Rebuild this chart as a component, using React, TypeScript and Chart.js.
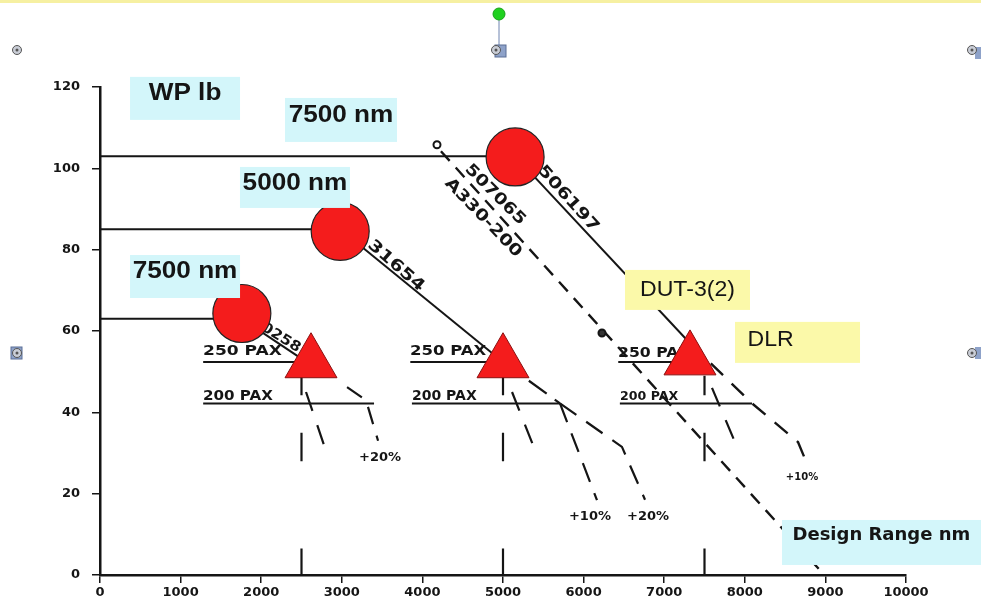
import React, { useEffect, useRef } from 'react';
import { Chart, registerables } from 'chart.js';

Chart.register(...registerables);

// ---------- axes ----------
const xMin = 0;
const xMax = 10000;
const xStep = 1000;
const yMin = 0;
const yMax = 120;
const yStep = 20;

// ---------- payload flats (WP lb) ----------
const flatUpper7500 = [{ x: 0, y: 103 }, { x: 5150, y: 103 }];
const flat5000 = [{ x: 0, y: 85 }, { x: 2980, y: 85 }];
const flatLower7500 = [{ x: 0, y: 63 }, { x: 1760, y: 63 }];

// ---------- range diagonals ----------
const diag506197 = [{ x: 5150, y: 103 }, { x: 7320, y: 57 }];
const diag506197Ext = [{ x: 7320, y: 57 }, { x: 8090, y: 42.2 }, { x: 8660, y: 32.7 }, { x: 8790, y: 26.5 }];
const diag31654 = [{ x: 2980, y: 85 }, { x: 5000, y: 52.4 }];
const diag31654Ext = [{ x: 5000, y: 52.4 }, { x: 5707, y: 42.2 }];
const diag0258 = [{ x: 1760, y: 63 }, { x: 2560, y: 52.4 }];
const a330Line = [{ x: 4230, y: 104.2 }, { x: 8950, y: 0.8 }];
const a330Marks = [{ x: 4181, y: 105.8 }, { x: 6228, y: 59.5 }];

// ---------- PAX lines ----------
const pax250Y = 52.4;
const pax250Spans = [[1280, 2540], [3850, 4840], [6430, 7200]];
const pax200Y = 42.2;
const pax200Spans = [[1280, 3400], [3870, 5707], [6450, 8090]];

// ---------- growth curves ----------
const g1Plus20 = [{ x: 3065, y: 46.2 }, { x: 3300, y: 43 }, { x: 3450, y: 33 }];
const g2Plus10 = [{ x: 5707, y: 42.2 }, { x: 6166, y: 18.4 }];
const g2Plus20 = [{ x: 5707, y: 42.2 }, { x: 6476, y: 31.5 }, { x: 6762, y: 18.5 }];
const g1Base = [{ x: 2556, y: 45 }, { x: 2792, y: 31.2 }];
const g2Base = [{ x: 5112, y: 45 }, { x: 5397, y: 30.7 }];
const g3Base = [{ x: 7593, y: 46 }, { x: 7878, y: 32.7 }];

// ---------- design range markers ----------
const designRanges = [2500, 5000, 7500];
const designRangeSegments = [[49, 44.2], [35, 28], [6.5, 0]];

// ---------- markers ----------
const circleX = [1760, 2980, 5150];
const circleY = [64.3, 84.5, 102.8];
const triangleX = [2618, 5000, 7320];
const triangleY = [52.2, 52.2, 52.9];

// ---------- hand-written labels ----------
const handLabels = [
  { text: '250 PAX', x: 1278, y: 54.9, size: 14, sx: 1.22, align: 'left', angle: 0 },
  { text: '250 PAX', x: 3846, y: 54.9, size: 14, sx: 1.18, align: 'left', angle: 0 },
  { text: '250 PAX', x: 6427, y: 54.6, size: 14, sx: 1.12, align: 'left', angle: 0 },
  { text: '200 PAX', x: 1278, y: 44.0, size: 14, sx: 1.08, align: 'left', angle: 0 },
  { text: '200 PAX', x: 3871, y: 44.0, size: 14, sx: 1.0, align: 'left', angle: 0 },
  { text: '200 PAX', x: 6452, y: 43.8, size: 12, sx: 1.05, align: 'left', angle: 0 },
  { text: '+20%', x: 3474, y: 28.8, size: 13, sx: 1.0, align: 'center', angle: 0 },
  { text: '+10%', x: 6079, y: 14.3, size: 13, sx: 1.0, align: 'center', angle: 0 },
  { text: '+20%', x: 6799, y: 14.3, size: 13, sx: 1.0, align: 'center', angle: 0 },
  { text: '+10%', x: 8710, y: 23.9, size: 10, sx: 1.0, align: 'center', angle: 0 },
  { text: '507065', x: 4901, y: 93.5, size: 16, sx: 1.18, align: 'center', angle: 45 },
  { text: 'A330-200', x: 4752, y: 87.8, size: 16, sx: 1.2, align: 'center', angle: 46 },
  { text: '506197', x: 5806, y: 92.5, size: 16, sx: 1.25, align: 'center', angle: 48 },
  { text: '31654', x: 3672, y: 76, size: 16, sx: 1.25, align: 'center', angle: 41 },
  { text: '0258', x: 2246, y: 58.3, size: 14, sx: 1.12, align: 'center', angle: 32 },
];

// ---------- callout boxes ----------
const CYAN = '#d3f6fa';
const YELLOW = '#fbf9a9';
const calloutBoxes = [
  { text: 'WP lb', x: 1055, y: 117.2, w: 110, h: 43, fill: CYAN, font: 'bold 24px "Liberation Sans"', sx: 1.09, dx: 0, dy: -5, align: 'center' },
  { text: '7500 nm', x: 2990, y: 111.9, w: 112, h: 44, fill: CYAN, font: 'bold 24px "Liberation Sans"', sx: 1.09, dx: 0, dy: -5, align: 'center' },
  { text: '5000 nm', x: 2419, y: 95.3, w: 110, h: 41, fill: CYAN, font: 'bold 24px "Liberation Sans"', sx: 1.09, dx: 0, dy: -4, align: 'center' },
  { text: '7500 nm', x: 1055, y: 73.4, w: 110, h: 43, fill: CYAN, font: 'bold 24px "Liberation Sans"', sx: 1.09, dx: 0, dy: -5, align: 'center' },
  { text: 'DUT-3(2)', x: 7289, y: 70.1, w: 125, h: 40, fill: YELLOW, font: '22px "Liberation Sans"', sx: 1.05, dx: 0, dy: 0, align: 'center' },
  { text: 'DLR', x: 8654, y: 57.2, w: 125, h: 41, fill: YELLOW, font: '22px "Liberation Sans"', sx: 1.05, dx: -50, dy: -2, align: 'left' },
  { text: 'Design Range nm', x: 9696, y: 8.0, w: 199, h: 45, fill: CYAN, font: 'bold 18px "DejaVu Sans"', sx: 1.0, dx: -89, dy: -7, align: 'left' },
];

const INK = '#151515';
const RED = '#f41c1c';
const HAND_FONT = '"DejaVu Sans"';

const pts = (xs: number[], ys: number[]) => xs.map((x, i) => ({ x, y: ys[i] }));
const spans = (list: number[][], y: number) =>
  list.flatMap(([a, b]) => [{ x: a, y }, { x: b, y }, { x: b, y: null as any }]);
const verticals = (xs: number[], segs: number[][]) =>
  xs.flatMap((x) => segs.flatMap(([a, b]) => [{ x, y: a }, { x, y: b }, { x, y: null as any }]));

const lineDs = (data: any[], dash: number[] = [], width = 2) => ({
  type: 'line' as const,
  data,
  borderColor: INK,
  borderWidth: width,
  borderDash: dash,
  pointRadius: 0,
  pointHoverRadius: 0,
  fill: false,
  tension: 0,
  spanGaps: false,
  order: 3,
  clip: false as any,
});

function drawText(ctx: CanvasRenderingContext2D, text: string, px: number, py: number, font: string, align: CanvasTextAlign, angle: number, sx: number) {
  ctx.save();
  ctx.translate(px, py);
  ctx.rotate((angle * Math.PI) / 180);
  ctx.scale(sx, 1);
  ctx.font = font;
  ctx.fillStyle = INK;
  ctx.textAlign = align;
  ctx.textBaseline = 'middle';
  ctx.fillText(text, 0, 0);
  ctx.restore();
}

const handLabelPlugin = {
  id: 'handLabels',
  beforeDatasetsDraw(chart: any) {
    const { ctx, scales } = chart;
    handLabels.forEach((l) => {
      drawText(ctx, l.text, scales.x.getPixelForValue(l.x), scales.y.getPixelForValue(l.y),
        `bold ${l.size}px ${HAND_FONT}`, l.align as CanvasTextAlign, l.angle, l.sx);
    });
  },
};

const calloutPlugin = {
  id: 'callouts',
  afterDatasetsDraw(chart: any) {
    const { ctx, scales } = chart;
    calloutBoxes.forEach((b) => {
      const cx = scales.x.getPixelForValue(b.x);
      const cy = scales.y.getPixelForValue(b.y);
      ctx.save();
      ctx.fillStyle = b.fill;
      ctx.fillRect(cx - b.w / 2, cy - b.h / 2, b.w, b.h);
      ctx.restore();
      drawText(ctx, b.text, cx + b.dx, cy + b.dy, b.font, b.align as CanvasTextAlign, 0, b.sx);
    });
  },
};

const frameDecorPlugin = {
  id: 'frameDecor',
  afterDraw(chart: any) {
    const ctx: CanvasRenderingContext2D = chart.ctx;
    ctx.save();
    ctx.fillStyle = '#f6f0a2';
    ctx.fillRect(0, 0, chart.width, 3);
    // rotation handle
    ctx.strokeStyle = '#6f84b0';
    ctx.lineWidth = 1;
    ctx.beginPath();
    ctx.moveTo(499, 20);
    ctx.lineTo(499, 45);
    ctx.stroke();
    ctx.fillStyle = '#1fd11f';
    ctx.strokeStyle = '#18a018';
    ctx.beginPath();
    ctx.arc(499, 14, 6, 0, Math.PI * 2);
    ctx.fill();
    ctx.stroke();
    // square handles
    ctx.fillStyle = '#8ea2c9';
    ctx.strokeStyle = '#5a6e96';
    ctx.fillRect(495, 45, 11, 12);
    ctx.strokeRect(495, 45, 11, 12);
    ctx.fillRect(11, 347, 11, 12);
    ctx.strokeRect(11, 347, 11, 12);
    ctx.fillRect(975, 47, 8, 12);
    ctx.fillRect(975, 347, 8, 12);
    // round handles
    const handles = [[17, 50], [496, 50], [972, 50], [17, 353], [972, 353]];
    handles.forEach(([hx, hy]) => {
      ctx.fillStyle = '#c9cdd6';
      ctx.strokeStyle = '#555';
      ctx.lineWidth = 1;
      ctx.beginPath();
      ctx.arc(hx, hy, 4.5, 0, Math.PI * 2);
      ctx.fill();
      ctx.stroke();
      ctx.fillStyle = '#555';
      ctx.beginPath();
      ctx.arc(hx, hy, 1.5, 0, Math.PI * 2);
      ctx.fill();
    });
    ctx.restore();
  },
};

export default function App() {
  const ref = useRef<HTMLCanvasElement>(null);

  useEffect(() => {
    const canvas = ref.current;
    if (!canvas) return;

    const datasets: any[] = [
      {
        type: 'line',
        data: pts(circleX, circleY),
        showLine: false,
        pointStyle: 'circle',
        pointRadius: 29,
        pointHoverRadius: 29,
        pointBackgroundColor: RED,
        pointBorderColor: '#222',
        pointBorderWidth: 1.2,
        order: 0,
        clip: false,
      },
      {
        type: 'line',
        data: pts(triangleX, triangleY),
        showLine: false,
        pointStyle: 'triangle',
        pointRadius: 30,
        pointHoverRadius: 30,
        pointBackgroundColor: RED,
        pointBorderColor: '#8a1010',
        pointBorderWidth: 1,
        order: 0,
        clip: false,
      },
      {
        type: 'line',
        data: a330Marks,
        showLine: false,
        pointStyle: 'circle',
        pointRadius: 3.5,
        pointHoverRadius: 3.5,
        pointBackgroundColor: ['#ffffff', '#333333'],
        pointBorderColor: INK,
        pointBorderWidth: 2,
        order: 1,
        clip: false,
      },
      lineDs(flatUpper7500, [], 2),
      lineDs(flat5000, [], 2),
      lineDs(flatLower7500, [], 2),
      lineDs(diag506197, [], 2),
      lineDs(diag506197Ext, [17, 12], 2.4),
      lineDs(diag31654, [], 2),
      lineDs(diag31654Ext, [22, 10], 2.2),
      lineDs(diag0258, [], 2),
      lineDs(a330Line, [13, 9], 2.4),
      lineDs(spans(pax250Spans, pax250Y), [], 2),
      lineDs(spans(pax200Spans, pax200Y), [], 2),
      lineDs(g1Plus20, [18, 12], 2.2),
      lineDs(g2Plus10, [20, 12], 2.2),
      lineDs(g2Plus20, [20, 12], 2.2),
      lineDs(g1Base, [20, 15], 2.2),
      lineDs(g2Base, [20, 15], 2.2),
      lineDs(g3Base, [20, 15], 2.2),
      lineDs(verticals(designRanges, designRangeSegments), [], 2.2),
    ];

    const chart = new Chart(canvas, {
      type: 'line',
      data: { datasets },
      options: {
        responsive: false,
        animation: false,
        events: [],
        layout: { padding: { left: 0, right: 75, top: 87, bottom: 0 } },
        plugins: {
          legend: { display: false },
          tooltip: { enabled: false },
        },
        scales: {
          x: {
            type: 'linear',
            min: xMin,
            max: xMax,
            afterFit: (s: any) => { s.height = 38; },
            ticks: {
              stepSize: xStep,
              color: INK,
              padding: 2,
              maxRotation: 0,
              autoSkip: false,
              font: { family: HAND_FONT, size: 13, weight: 'bold' },
              callback: (v: any) => String(v),
            },
            grid: { display: true, drawOnChartArea: false, drawTicks: true, tickLength: 8, color: INK, lineWidth: 1.5 },
            border: { display: true, color: INK, width: 2.5 },
          },
          y: {
            type: 'linear',
            min: yMin,
            max: yMax,
            afterFit: (s: any) => { s.width = 100; },
            ticks: {
              stepSize: yStep,
              color: INK,
              padding: 12,
              font: { family: HAND_FONT, size: 13, weight: 'bold' },
              callback: (v: any) => String(v),
            },
            grid: { display: true, drawOnChartArea: false, drawTicks: true, tickLength: 8, color: INK, lineWidth: 1.5 },
            border: { display: true, color: INK, width: 2.5 },
          },
        },
      } as any,
      plugins: [handLabelPlugin, calloutPlugin, frameDecorPlugin],
    });

    return () => chart.destroy();
  }, []);

  return (
    <div style={{ position: 'fixed', left: 0, top: 0, width: 981, height: 613, background: '#ffffff' }}>
      <canvas ref={ref} width={981} height={613} style={{ display: 'block', width: 981, height: 613 }} />
    </div>
  );
}
